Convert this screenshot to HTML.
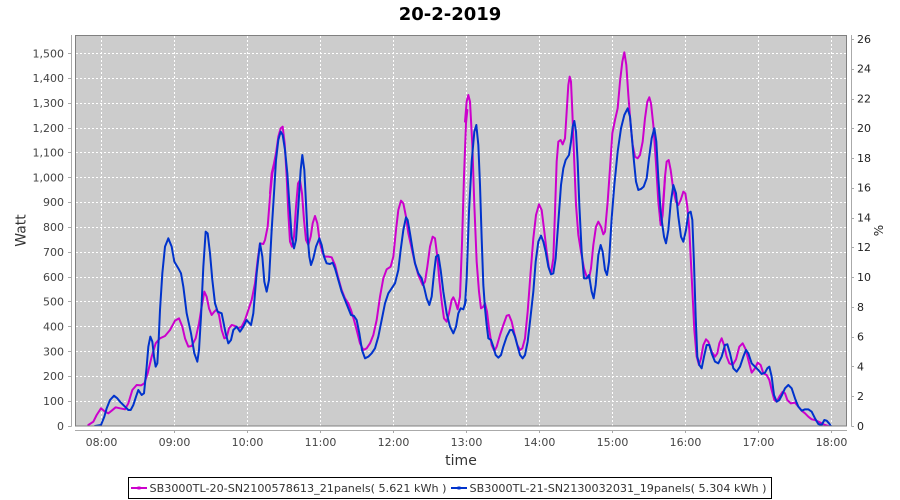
<!DOCTYPE html>
<html><head><meta charset="utf-8"><style>
html,body{margin:0;padding:0;background:#fff;}
svg{display:block;}
text{font-family:"DejaVu Sans","Liberation Sans",sans-serif;}
</style></head><body>
<svg width="900" height="500" viewBox="0 0 900 500" xmlns="http://www.w3.org/2000/svg">
<defs><clipPath id="pc"><rect x="75.5" y="35.5" width="771" height="390.5"/></clipPath></defs>
<rect x="0" y="0" width="900" height="500" fill="#fff"/>
<text x="450" y="20" font-size="18" font-weight="bold" text-anchor="middle" fill="#000">20-2-2019</text>
<rect x="75.5" y="35.5" width="771" height="390.5" fill="#cccccc"/>
<g stroke="#ffffff" stroke-width="1" stroke-dasharray="2,2" fill="none">
<path d="M101.5 36V426M174.5 36V426M247.5 36V426M320.5 36V426M393.5 36V426M466.5 36V426M539.5 36V426M612.5 36V426M685.5 36V426M758.5 36V426M831.5 36V426"/>
<path d="M76 401.5H846M76 376.5H846M76 351.5H846M76 326.5H846M76 301.5H846M76 277.5H846M76 252.5H846M76 227.5H846M76 202.5H846M76 177.5H846M76 152.5H846M76 128.5H846M76 103.5H846M76 78.5H846M76 53.5H846"/>
</g>
<g clip-path="url(#pc)" fill="none" stroke-width="6" stroke-linejoin="round" stroke-linecap="round">
<g transform="translate(75,100) scale(0.33333)">
<polyline stroke="#cc00cc" points="40,975 55,965 65,945 78,925 90,935 100,940 110,932 122,922 135,925 150,928 160,910 172,870 185,855 198,856 208,850 218,820 230,770 242,730 255,715 270,708 285,690 300,662 312,655 322,680 330,715 340,740 350,738 362,715 372,670 380,620 388,575 395,590 402,625 410,645 418,635 425,628 432,645 440,690 448,715 455,712 462,685 470,675 480,678 490,685 500,680 510,660 520,630 530,600 540,550 548,480 555,430 565,432 570,420 578,380 585,290 592,220 600,185"/>
<polyline stroke="#0033cc" points="60,978 78,975 88,950 95,925 105,900 117,887 127,895 135,905 150,920 160,930 167,930 175,915 183,890 190,870 200,885 207,880 215,800 220,740 226,710 232,725 237,770 242,800 247,790 251,720 255,630 262,520 270,440 280,415 290,440 298,485 310,505 318,520 325,560 335,640 348,700 358,760 367,785 372,750 378,650 385,500 392,395 398,400 405,460 412,540 420,610 428,635 440,640 452,700 460,730 468,720 475,690 485,680 495,695 505,680 515,660 528,675 535,640 545,520 555,430 562,470 568,545 575,575 582,540 590,390"/>
</g>
<g transform="translate(270,110) scale(0.33333)">
<polyline stroke="#cc00cc" points="0,250 5,190 12,160 18,130 25,80 32,55 38,50 44,100 50,200 55,310 60,395 66,410 72,380 78,290 84,220 90,210 96,250 102,330 108,390 115,405 122,380 128,340 135,318 142,340 150,400 158,430 165,440 175,440 185,442 195,465 205,505 215,540 225,565 235,580 243,600 252,630 260,660 270,700 280,720 290,715 300,700 310,675 320,630 330,560 340,505 350,478 362,470 370,440 378,360 385,300 393,272 400,280 408,320 415,370 425,415 435,460 445,495 458,525 465,515 472,470 480,410 488,380 495,385 502,440 508,510 515,575 522,625 530,635 537,610 545,570 550,562 556,575 563,598 570,560 576,400 582,200 588,40 592,0"/>
<polyline stroke="#0033cc" points="5,360 12,250 18,150 25,90 32,65 38,75 45,120 52,190 58,280 65,380 72,415 78,390 85,290 92,180 97,135 103,180 108,280 113,380 118,440 123,465 130,445 138,410 148,385 155,405 162,440 170,460 180,462 188,458 195,475 205,510 215,545 225,570 235,595 243,615 252,618 260,630 268,670 276,720 285,745 295,740 305,730 315,715 325,680 335,630 345,580 355,550 365,535 375,520 385,480 392,420 400,360 408,322 413,330 420,370 428,420 435,460 445,490 455,505 463,535 470,565 478,585 485,560 492,490 498,440 505,435 512,480 520,545 530,610 540,650 550,670 558,650 565,610 572,595 580,598 588,570"/>
</g>
<g transform="translate(465,45) scale(0.33333)">
<polyline stroke="#cc00cc" points="0,230 5,170 10,150 15,170 22,300 28,480 35,650 42,740 48,790 55,785 60,775 66,800 72,850 80,900 88,918 95,905 105,870 115,840 125,812 132,810 140,830 148,865 157,900 165,915 172,910 180,880 188,800 197,680 205,580 213,510 222,478 230,495 238,560 245,620 252,670 258,685 265,640 270,500 275,350 280,290 287,285 293,298 300,280 305,200 310,120 314,95 318,110 322,200 327,330 333,480 340,570 348,620 357,670 365,695 372,700 378,670 385,600 393,545 400,530 408,545 415,568 420,560 428,470 435,370 442,265 450,225 458,190 465,110 472,50 478,22 484,60 490,150 497,240 503,300 510,335 518,340 525,330 533,290 540,220 547,170 553,157 558,175 565,240 572,340 580,470 587,540 593,510 600,400"/>
<polyline stroke="#0033cc" points="0,780 5,700 12,500 20,350 28,260 34,240 40,300 45,420 50,580 55,720 60,790 65,840 70,880 78,885 85,905 92,930 100,938 108,930 115,905 125,875 135,855 142,855 150,875 158,905 165,930 173,940 180,930 188,890 195,830 205,740 212,650 220,590 228,572 235,590 242,620 250,665 258,688 265,685 272,640 280,530 288,420 295,370 302,345 312,330 318,290 323,245 328,228 333,260 338,350 343,480 350,620 357,700 365,700 372,690 380,740 386,760 392,720 400,630 407,600 413,620 420,675 426,690 432,650 440,520 448,420 458,320 468,250 478,210 488,190 495,215 500,270 507,350 513,410 520,435 528,432 536,425 545,400 552,340 560,280 568,250 574,290 580,400 587,500"/>
</g>
<g transform="translate(660,90) scale(0.33333)">
<polyline stroke="#cc00cc" points="0,390 5,400 10,330 15,260 20,215 26,210 32,240 40,300 48,335 55,345 62,330 70,305 76,310 82,350 88,420 93,520 98,620 103,720 110,800 117,825 123,805 130,765 138,748 145,755 155,785 165,800 172,790 178,760 185,745 192,765 200,800 208,820 218,825 228,808 238,770 248,760 258,780 265,810 275,848 285,835 293,818 302,825 310,850 320,855 328,870 335,900 343,930 350,935 358,920 368,905 375,910 382,930 392,940 405,938 415,950 425,962 435,970 445,980 455,988 465,990 475,995 485,1000 495,1005 505,1008"/>
<polyline stroke="#0033cc" points="2,365 5,390 12,440 18,460 25,420 32,340 40,285 48,310 55,380 63,440 70,455 78,420 85,370 92,365 97,390 102,520 107,680 112,800 118,825 125,835 132,800 140,765 148,765 155,790 165,815 175,820 185,800 195,765 202,763 210,790 220,835 230,845 240,830 250,800 258,780 265,790 275,820 285,830 295,840 305,852 315,848 322,835 328,830 335,860 342,915 350,935 358,930 366,915 375,895 385,885 395,895 405,925 415,950 425,962 435,958 445,958 455,965 465,985 475,1002 485,1005 493,990 500,992 507,1000 513,1008"/>
</g>
</g>
<rect x="75.5" y="35.5" width="771" height="390.5" fill="none" stroke="#808080" stroke-width="1"/>
<g stroke="#aaaaaa" stroke-width="1" fill="none">
<path d="M71.5 35V426.5"/>
<path d="M68 426.5H71.5M68 401.5H71.5M68 376.5H71.5M68 351.5H71.5M68 326.5H71.5M68 301.5H71.5M68 277.5H71.5M68 252.5H71.5M68 227.5H71.5M68 202.5H71.5M68 177.5H71.5M68 152.5H71.5M68 128.5H71.5M68 103.5H71.5M68 78.5H71.5M68 53.5H71.5"/>
<path d="M75 430.5H847"/>
<path d="M101.5 430.5V433M174.5 430.5V433M247.5 430.5V433M320.5 430.5V433M393.5 430.5V433M466.5 430.5V433M539.5 430.5V433M612.5 430.5V433M685.5 430.5V433M758.5 430.5V433M831.5 430.5V433"/>
<path d="M851.5 35V426.5"/>
<path d="M851.5 426.5H854M851.5 396.5H854M851.5 366.5H854M851.5 337.5H854M851.5 307.5H854M851.5 277.5H854M851.5 247.5H854M851.5 218.5H854M851.5 188.5H854M851.5 158.5H854M851.5 128.5H854M851.5 99.5H854M851.5 69.5H854M851.5 39.5H854"/>
</g>
<g font-size="11" fill="#444444" text-anchor="end">
<text x="64" y="430">0</text>
<text x="64" y="405">100</text>
<text x="64" y="380">200</text>
<text x="64" y="355.5">300</text>
<text x="64" y="330.5">400</text>
<text x="64" y="305.5">500</text>
<text x="64" y="281">600</text>
<text x="64" y="256">700</text>
<text x="64" y="231">800</text>
<text x="64" y="206">900</text>
<text x="64" y="181.5">1,000</text>
<text x="64" y="156.5">1,100</text>
<text x="64" y="132">1,200</text>
<text x="64" y="107">1,300</text>
<text x="64" y="82">1,400</text>
<text x="64" y="57.5">1,500</text>
</g>
<g font-size="11" fill="#222222">
<text x="857" y="430">0</text>
<text x="857" y="400">2</text>
<text x="857" y="370.5">4</text>
<text x="857" y="340.5">6</text>
<text x="857" y="311">8</text>
<text x="857" y="281">10</text>
<text x="857" y="251">12</text>
<text x="857" y="221.5">14</text>
<text x="857" y="191.5">16</text>
<text x="857" y="162">18</text>
<text x="857" y="132">20</text>
<text x="857" y="102.5">22</text>
<text x="857" y="72.5">24</text>
<text x="857" y="43">26</text>
</g>
<g font-size="11" fill="#444444" text-anchor="middle">
<text x="101.5" y="446">08:00</text>
<text x="174.5" y="446">09:00</text>
<text x="247.5" y="446">10:00</text>
<text x="320.5" y="446">11:00</text>
<text x="393.5" y="446">12:00</text>
<text x="466.5" y="446">13:00</text>
<text x="539.5" y="446">14:00</text>
<text x="612.5" y="446">15:00</text>
<text x="685.5" y="446">16:00</text>
<text x="758.5" y="446">17:00</text>
<text x="831.5" y="446">18:00</text>
</g>
<text x="461" y="465" font-size="14" fill="#333333" text-anchor="middle">time</text>
<text transform="translate(25.5,230.5) rotate(-90)" font-size="14" fill="#333333" text-anchor="middle">Watt</text>
<text transform="translate(883,230.5) rotate(-90)" font-size="12" fill="#222222" text-anchor="middle">%</text>
<rect x="128.5" y="477.5" width="643" height="21" fill="#fff" stroke="#000" stroke-width="1"/>
<path d="M131 488H147" stroke="#cc00cc" stroke-width="2"/>
<rect x="137.5" y="486.5" width="3" height="3" fill="#cc00cc"/>
<text x="149.5" y="492" font-size="11" fill="#333333" textLength="297" lengthAdjust="spacingAndGlyphs">SB3000TL-20-SN2100578613_21panels( 5.621 kWh )</text>
<path d="M451 488H467" stroke="#0033cc" stroke-width="2"/>
<rect x="457.5" y="486.5" width="3" height="3" fill="#0033cc"/>
<text x="469.5" y="492" font-size="11" fill="#333333" textLength="297" lengthAdjust="spacingAndGlyphs">SB3000TL-21-SN2130032031_19panels( 5.304 kWh )</text>
</svg>
</body></html>
